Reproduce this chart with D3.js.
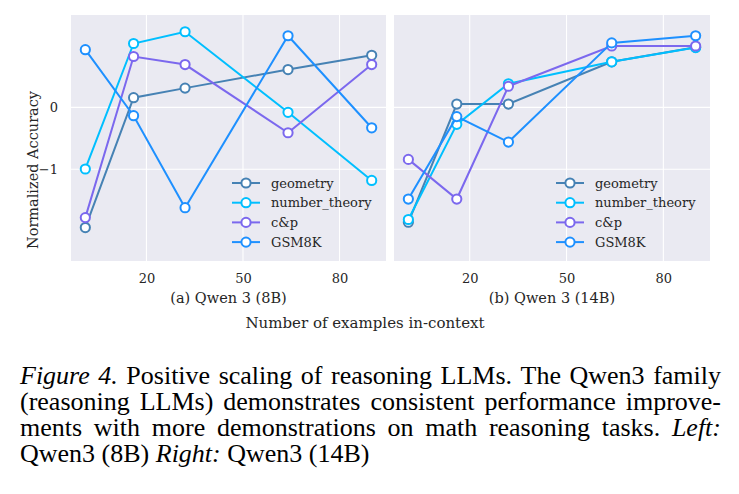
<!DOCTYPE html>
<html>
<head>
<meta charset="utf-8">
<script src="https://cdn.jsdelivr.net/npm/d3@7"></script>
<style>
  html, body { margin: 0; padding: 0; background: #ffffff; }
  svg { display: block; }
</style>
</head>
<body>
<svg id="chart" width="739" height="494"></svg>
<script>
// ---------------- data ----------------
const examples = [1, 16, 32, 64, 90];
const seriesNames = ["geometry", "number_theory", "c&p", "GSM8K"];
const seriesColors = ["#4682B4", "#00BFFF", "#7B68EE", "#1E90FF"];
const xTicks = [20, 50, 80];
const yTicks = [0, -1];

// Qwen 3 (8B)
const q8_geometry      = [-1.94, 0.155, 0.31, 0.61, 0.84];
const q8_number_theory = [-0.995, 1.03, 1.22, -0.08, -1.18];
const q8_cp            = [-1.78, 0.82, 0.69, -0.41, 0.69];
const q8_gsm8k         = [0.93, -0.135, -1.62, 1.155, -0.33];

// Qwen 3 (14B)
const q14_geometry      = [-1.855, 0.053, 0.053, 0.735, 0.97];
const q14_number_theory = [-1.81, -0.275, 0.38, 0.735, 0.965];
const q14_cp            = [-0.84, -1.48, 0.34, 0.99, 0.99];
const q14_gsm8k         = [-1.48, -0.15, -0.56, 1.04, 1.155];

const panelTitles = ["(a) Qwen 3 (8B)", "(b) Qwen 3 (14B)"];
const panelData = [
  [q8_geometry, q8_number_theory, q8_cp, q8_gsm8k],
  [q14_geometry, q14_number_theory, q14_cp, q14_gsm8k]
];

// ---------------- layout ----------------
const svg = d3.select("#chart");
const serif = "'DejaVu Serif', serif";
const panels = [
  { left: 71, right: 386 },
  { left: 394, right: 710 }
];
const plotTop = 15, plotBottom = 261;

const y = d3.scaleLinear().domain([-2.48, 1.49]).range([plotBottom, plotTop]);

panels.forEach((p, pi) => {
  const x = d3.scaleLinear().domain([-3.45, 94.45]).range([p.left, p.right]);
  const g = svg.append("g");

  g.append("rect")
    .attr("x", p.left).attr("y", plotTop)
    .attr("width", p.right - p.left).attr("height", plotBottom - plotTop)
    .attr("fill", "#EAEAF2");

  // grid
  g.selectAll("line.vg").data(xTicks).enter().append("line")
    .attr("x1", d => x(d)).attr("x2", d => x(d))
    .attr("y1", plotTop).attr("y2", plotBottom)
    .attr("stroke", "#fff").attr("stroke-width", 1.1);
  g.selectAll("line.hg").data(yTicks).enter().append("line")
    .attr("x1", p.left).attr("x2", p.right)
    .attr("y1", d => y(d)).attr("y2", d => y(d))
    .attr("stroke", "#fff").attr("stroke-width", 1.1);

  // x axis tick labels
  const xAxis = d3.axisBottom(x).tickValues(xTicks).tickSize(0).tickPadding(0);
  const xa = g.append("g").attr("transform", `translate(0,${plotBottom})`).call(xAxis);
  xa.select(".domain").remove();
  xa.selectAll("text")
    .attr("y", 18).attr("dy", "0.32em")
    .attr("font-family", serif).attr("font-size", 13).attr("fill", "#262626");

  if (pi === 0) {
    const yAxis = d3.axisLeft(y).tickValues(yTicks).tickSize(0).tickPadding(0)
      .tickFormat(d => d < 0 ? "\u2212" + Math.abs(d) : d);
    const ya = g.append("g").attr("transform", `translate(${p.left},0)`).call(yAxis);
    ya.select(".domain").remove();
    ya.selectAll("text")
      .attr("x", -13)
      .attr("font-family", serif).attr("font-size", 13).attr("fill", "#262626");
  }

  // subtitle
  g.append("text")
    .attr("x", (p.left + p.right) / 2).attr("y", 298).attr("dy", "0.35em")
    .attr("text-anchor", "middle")
    .attr("font-family", serif).attr("font-size", 14.5).attr("fill", "#262626")
    .text(panelTitles[pi]);

  // lines
  const line = d3.line().x((d, i) => x(examples[i])).y(d => y(d));
  panelData[pi].forEach((vals, si) => {
    const sg = g.append("g");
    sg.append("path").datum(vals)
      .attr("d", line).attr("fill", "none")
      .attr("stroke", seriesColors[si]).attr("stroke-width", 2);
    sg.selectAll("circle").data(vals).enter().append("circle")
      .attr("cx", (d, i) => x(examples[i])).attr("cy", d => y(d))
      .attr("r", 4.6).attr("fill", "#fff")
      .attr("stroke", seriesColors[si]).attr("stroke-width", 2);
  });

  // legend
  const lx = pi === 0 ? 232 : 556;
  const lg = g.append("g");
  seriesNames.forEach((name, si) => {
    const ry = 183 + si * 19.7;
    lg.append("line").attr("x1", lx).attr("x2", lx + 28)
      .attr("y1", ry).attr("y2", ry)
      .attr("stroke", seriesColors[si]).attr("stroke-width", 2);
    lg.append("circle").attr("cx", lx + 14).attr("cy", ry).attr("r", 4.6)
      .attr("fill", "#fff").attr("stroke", seriesColors[si]).attr("stroke-width", 2);
    lg.append("text").attr("x", lx + 39).attr("y", ry).attr("dy", "0.35em")
      .attr("font-family", serif).attr("font-size", 13).attr("fill", "#262626")
      .text(name);
  });
});

// y label
svg.append("text")
  .attr("transform", "translate(33,170) rotate(-90)")
  .attr("text-anchor", "middle").attr("dy", "0.35em")
  .attr("font-family", serif).attr("font-size", 14.5).attr("fill", "#262626")
  .text("Normalized Accuracy");

// x label
svg.append("text")
  .attr("x", 365).attr("y", 323).attr("dy", "0.35em")
  .attr("text-anchor", "middle")
  .attr("font-family", serif).attr("font-size", 15).attr("fill", "#262626")
  .text("Number of examples in-context");

// ---------------- caption ----------------
const capFont = "'Liberation Serif', 'Times New Roman', serif";
const capSize = 26;
const capLeft = 20, capRight = 721;
const capLines = [
  [["Figure", 1], ["4.", 1], ["Positive", 0], ["scaling", 0], ["of", 0], ["reasoning", 0], ["LLMs.", 0], ["The", 0], ["Qwen3", 0], ["family", 0]],
  [["(reasoning", 0], ["LLMs)", 0], ["demonstrates", 0], ["consistent", 0], ["performance", 0], ["improve-", 0]],
  [["ments", 0], ["with", 0], ["more", 0], ["demonstrations", 0], ["on", 0], ["math", 0], ["reasoning", 0], ["tasks.", 0], ["Left:", 1]],
  [["Qwen3", 0], ["(8B)", 0], ["Right:", 1], ["Qwen3", 0], ["(14B)", 0]]
];
const capBaselines = [384, 410, 436, 462];

const measure = svg.append("text")
  .attr("font-family", capFont).attr("font-size", capSize).attr("x", -1000).attr("y", -1000);
function wordWidth(w, it) {
  measure.attr("font-style", it ? "italic" : "normal").text(w);
  return measure.node().getComputedTextLength();
}
const spaceW = (() => { measure.attr("font-style", "normal").text("a a"); const a = measure.node().getComputedTextLength(); measure.text("aa"); return a - measure.node().getComputedTextLength(); })();

capLines.forEach((words, li) => {
  const widths = words.map(([w, it]) => wordWidth(w, it));
  const total = d3.sum(widths);
  const justify = li < capLines.length - 1;
  const gap = justify ? (capRight - capLeft - total) / (words.length - 1) : spaceW;
  let cx = capLeft;
  const t = svg.append("text")
    .attr("y", capBaselines[li])
    .attr("font-family", capFont).attr("font-size", capSize).attr("fill", "#000");
  words.forEach(([w, it], wi) => {
    t.append("tspan").attr("x", cx).attr("font-style", it ? "italic" : "normal").text(w);
    cx += widths[wi] + gap;
  });
});
measure.remove();
</script>
</body>
</html>
